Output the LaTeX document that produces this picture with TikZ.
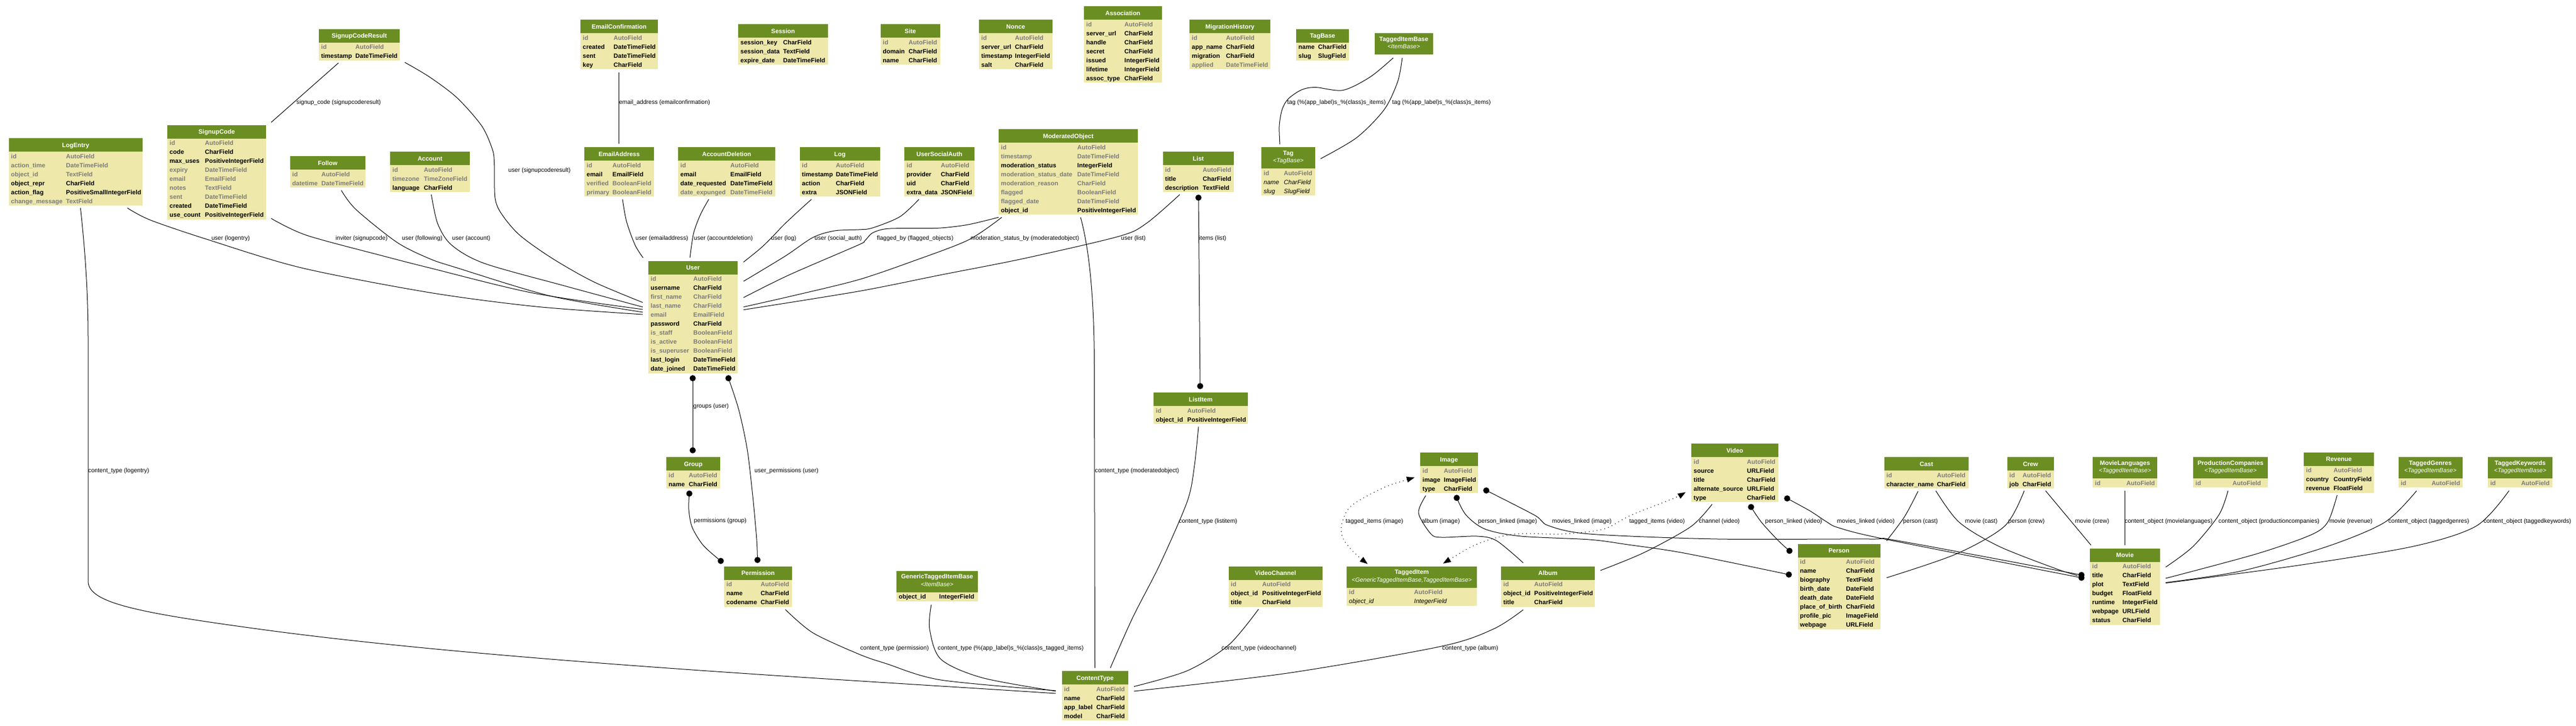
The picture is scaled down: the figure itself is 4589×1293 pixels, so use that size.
\documentclass[tikz,border=0pt]{standalone}
\usepackage{fontspec}
\setmainfont{Liberation Sans}
\usetikzlibrary{arrows.meta}
\definecolor{hdrgreen}{HTML}{6B8E23}
\definecolor{tblbg}{HTML}{EEE8AA}
\definecolor{fieldgrey}{HTML}{7B7B7B}
\newcommand\fldg{\color{fieldgrey}\bfseries}
\newcommand\fldb{\bfseries}
\newcommand\fldi{\itshape}
% #1 name, #2 x, #3 y, #4 width, #5 stereotype, #6 column-2 offset, #7 rows, #8 row list
\newcommand\mytable[8]{%
  \def\tblsub{#5}%
  \ifx\tblsub\empty\def\tblhh{24}\else\def\tblhh{38}\fi
  \pgfmathsetmacro\tblh{\tblhh+16*#7}%
  \node[tblbody, anchor=north west, minimum width=#4pt, minimum height=\tblh pt] (#1) at (#2,#3) {};
  \fill[hdr] (#2,#3) rectangle ++(#4,\tblhh);
  \ifx\tblsub\empty
    \node[ttl, anchor=base] (#1-t) at (#2+#4/2,#3+16) {#1};
  \else
    \node[ttl, anchor=base] (#1-t) at (#2+#4/2,#3+14) {#1};
    \node[stereo, anchor=base] (#1-s) at (#2+#4/2,#3+27.5) {#5};
  \fi
  \ifnum#7>0
    \foreach \sty/\fn/\ty [count=\i from 0] in {#8}{%
      \node[fldtext] (#1-f\i) at (#2+4,#3+\tblhh+16*\i+12) {\csname fld\sty\endcsname\fn};
      \node[fldtext] (#1-v\i) at (#2+#6,#3+\tblhh+16*\i+12) {\csname fld\sty\endcsname\ty};
    }%
  \fi
}
\tikzset{
  tblbody/.style={fill=tblbg, inner sep=0pt, outer sep=0pt, draw=none},
  hdr/.style={fill=hdrgreen},
  ttl/.style={text=white, font=\fontsize{11}{13}\selectfont\bfseries, inner sep=0pt},
  stereo/.style={text=white, font=\fontsize{10.7}{12}\selectfont\itshape, inner sep=0pt},
  fldtext/.style={font=\fontsize{11}{13}\selectfont, inner sep=0pt, anchor=base west},
  conn/.style={draw=black, line width=1pt},
  dotconn/.style={draw=black, line width=1.6pt, line cap=round, dash pattern=on 0pt off 7pt, >={Triangle[length=14pt,width=10pt]}, <->},
  lbl/.style={font=\fontsize{10.6}{12}\selectfont, inner sep=0pt, anchor=west, text height=7.6pt, text depth=2.2pt},
  mdot/.style={fill=black},
}
\begin{document}
\begin{tikzpicture}[x=1pt, y=-1pt]
\fill[white] (0,0) rectangle (4589,1293);
\useasboundingbox (0,0) rectangle (4589,1293);

% ---------------- tables ----------------
\mytable{SignupCodeResult}{568}{51.5}{144}{}{65}{2}{g/id/AutoField, b/timestamp/DateTimeField}
\mytable{SignupCode}{298}{222.5}{176}{}{67}{9}{g/id/AutoField, b/code/CharField, b/max\_uses/PositiveIntegerField, g/expiry/DateTimeField, g/email/EmailField, g/notes/TextField, g/sent/DateTimeField, b/created/DateTimeField, b/use\_count/PositiveIntegerField}
\mytable{LogEntry}{15.5}{246}{238.5}{}{102}{6}{g/id/AutoField, g/action\_time/DateTimeField, g/object\_id/TextField, b/object\_repr/CharField, b/action\_flag/PositiveSmallIntegerField, g/change\_message/TextField}
\mytable{Follow}{516.5}{278}{134.5}{}{56}{2}{g/id/AutoField, g/datetime/DateTimeField}
\mytable{Account}{695}{270}{142}{}{60}{3}{g/id/AutoField, g/timezone/TimeZoneField, b/language/CharField}
\mytable{EmailConfirmation}{1034}{35}{138}{}{59}{4}{g/id/AutoField, b/created/DateTimeField, b/sent/DateTimeField, b/key/CharField}
\mytable{Session}{1315}{43}{160}{}{80}{3}{b/session\_key/CharField, b/session\_data/TextField, b/expire\_date/DateTimeField}
\mytable{EmailAddress}{1041}{262}{124}{}{50}{4}{g/id/AutoField, b/email/EmailField, g/verified/BooleanField, g/primary/BooleanField}
\mytable{AccountDeletion}{1208}{262}{173}{}{93}{4}{g/id/AutoField, b/email/EmailField, b/date\_requested/DateTimeField, g/date\_expunged/DateTimeField}
\mytable{Log}{1424.5}{262}{143.5}{}{64.5}{4}{g/id/AutoField, b/timestamp/DateTimeField, b/action/CharField, b/extra/JSONField}
\mytable{User}{1155}{464.5}{159}{}{80}{11}{g/id/AutoField, b/username/CharField, g/first\_name/CharField, g/last\_name/CharField, g/email/EmailField, b/password/CharField, g/is\_staff/BooleanField, g/is\_active/BooleanField, g/is\_superuser/BooleanField, b/last\_login/DateTimeField, b/date\_joined/DateTimeField}
\mytable{Site}{1568.5}{43}{106.5}{}{50}{3}{g/id/AutoField, b/domain/CharField, b/name/CharField}
\mytable{Nonce}{1744}{35}{131}{}{64}{4}{g/id/AutoField, b/server\_url/CharField, b/timestamp/IntegerField, b/salt/CharField}
\mytable{Association}{1931}{11}{138.5}{}{72}{7}{g/id/AutoField, b/server\_url/CharField, b/handle/CharField, b/secret/CharField, b/issued/IntegerField, b/lifetime/IntegerField, b/assoc\_type/CharField}
\mytable{MigrationHistory}{2119}{35}{144}{}{65}{4}{g/id/AutoField, b/app\_name/CharField, b/migration/CharField, g/applied/DateTimeField}
\mytable{UserSocialAuth}{1611}{262}{125}{}{65}{4}{g/id/AutoField, b/provider/CharField, b/uid/CharField, b/extra\_data/JSONField}
\mytable{ModeratedObject}{1779}{230}{248}{}{140}{8}{g/id/AutoField, g/timestamp/DateTimeField, b/moderation\_status/IntegerField, g/moderation\_status\_date/DateTimeField, g/moderation\_reason/CharField, g/flagged/BooleanField, g/flagged\_date/DateTimeField, b/object\_id/PositiveIntegerField}
\mytable{List}{2071.5}{270}{126.5}{}{71}{3}{g/id/AutoField, b/title/CharField, b/description/TextField}
\mytable{Tag}{2247}{262}{96}{<TagBase>}{40}{3}{g/id/AutoField, i/name/CharField, i/slug/SlugField}
\mytable{TagBase}{2309}{51.5}{94}{}{39}{2}{b/name/CharField, b/slug/SlugField}
\mytable{TaggedItemBase}{2449}{59}{103.5}{<ItemBase>}{0}{0}{}
\mytable{ListItem}{2055}{699}{168}{}{60}{2}{g/id/AutoField, b/object\_id/PositiveIntegerField}
\mytable{GenericTaggedItemBase}{1597}{1016.5}{145}{<ItemBase>}{76}{1}{b/object\_id/IntegerField}
\mytable{VideoChannel}{2188.5}{1008.5}{167.5}{}{60}{3}{g/id/AutoField, b/object\_id/PositiveIntegerField, b/title/CharField}
\mytable{ContentType}{1891.5}{1195}{118.5}{}{61.5}{4}{g/id/AutoField, b/name/CharField, b/app\_label/CharField, b/model/CharField}
\mytable{Group}{1187}{814}{96}{}{40}{2}{g/id/AutoField, b/name/CharField}
\mytable{Permission}{1290}{1008.5}{121}{}{65}{3}{g/id/AutoField, b/name/CharField, b/codename/CharField}
\mytable{Image}{2530}{806}{102.5}{}{42}{3}{g/id/AutoField, b/image/ImageField, b/type/CharField}
\mytable{TaggedItem}{2399}{1008.5}{232}{<GenericTaggedItemBase,TaggedItemBase>}{120}{2}{g/id/AutoField, i/object\_id/IntegerField}
\mytable{Album}{2674}{1008.5}{167}{}{59}{3}{g/id/AutoField, b/object\_id/PositiveIntegerField, b/title/CharField}
\mytable{Video}{3013}{790}{155}{}{99}{5}{g/id/AutoField, b/source/URLField, b/title/CharField, b/alternate\_source/URLField, b/type/CharField}
\mytable{Person}{3202.5}{968.5}{147}{}{86}{8}{g/id/AutoField, b/name/CharField, b/biography/TextField, b/birth\_date/DateField, b/death\_date/DateField, b/place\_of\_birth/CharField, b/profile\_pic/ImageField, b/webpage/URLField}
\mytable{Cast}{3356.5}{814}{150.5}{}{94}{2}{g/id/AutoField, b/character\_name/CharField}
\mytable{Crew}{3575.5}{814}{83.5}{}{27.5}{2}{g/id/AutoField, b/job/CharField}
\mytable{MovieLanguages}{3728}{814}{115}{<TaggedItemBase>}{60}{1}{g/id/AutoField}
\mytable{ProductionCompanies}{3907}{814}{133}{<TaggedItemBase>}{70}{1}{g/id/AutoField}
\mytable{Movie}{3723}{976.5}{125}{}{58}{7}{g/id/AutoField, b/title/CharField, b/plot/TextField, b/budget/FloatField, b/runtime/IntegerField, b/webpage/URLField, b/status/CharField}
\mytable{Revenue}{4104}{805.5}{125}{}{53}{3}{g/id/AutoField, b/country/CountryField, b/revenue/FloatField}
\mytable{TaggedGenres}{4272.5}{814}{114}{<TaggedItemBase>}{59}{1}{g/id/AutoField}
\mytable{TaggedKeywords}{4432}{814}{115}{<TaggedItemBase>}{59}{1}{g/id/AutoField}

% ---------------- connectors ----------------
\draw[conn] ([shift={(35,60.5)}]SignupCodeResult.north west) -- ([shift={(185,-4.5)}]SignupCode.north west);
\draw[conn] plot[smooth] coordinates {([shift={(153,59.5)}]SignupCodeResult.north west) (765,137) (814,174) (858,224) (877,265.6) (880.6,290.5) (882,352.7) (894,381.7) (926,419) (984.5,460.6) (1057.7,502) ([shift={(-10,74.2)}]User.north west)};
\draw[conn] plot[smooth] coordinates {([shift={(211.5,124.5)}]LogEntry.north west) (268,392) (371,427) (537,477) (765,521) (955,546) ([shift={(-10,95.5)}]User.north west)};
\draw[conn] plot[smooth] coordinates {([shift={(185,166.5)}]SignupCode.north west) (546,419) (683,456) (765,477) (950,522) ([shift={(-10,86.5)}]User.north west)};
\draw[conn] plot[smooth] coordinates {([shift={(91.5,61)}]Follow.north west) (634,373) (707,431.5) (765,460.6) (814,477) (980,527) ([shift={(-10,91.5)}]User.north west)};
\draw[conn] plot[smooth] coordinates {([shift={(73.4,76.5)}]Account.north west) (779.6,398) (804,436) (862.6,469) (1009,510) ([shift={(-10,82.3)}]User.north west)};
\draw[conn] plot[smooth] coordinates {([shift={(68,93)}]EmailAddress.north west) (1116,394) (1131,435.7) ([shift={(-9.5,-5.5)}]User.north west)};
\draw[conn] plot[smooth] coordinates {([shift={(54.6,93)}]AccountDeletion.north west) (1248,381.7) (1235.7,415) ([shift={(74,-5.5)}]User.north west)};
\draw[conn] ([shift={(68.6,93.6)}]EmailConfirmation.north west) -- ([shift={(61.6,-5.6)}]EmailAddress.north west);
\draw[conn] plot[smooth] coordinates {([shift={(21,93)}]Log.north west) (1418,380) (1395,401.7) (1374.5,423.3) (1354,443) ([shift={(169.5,2.3)}]User.north west)};
\draw[conn] plot[smooth] coordinates {([shift={(26,93)}]UserSocialAuth.north west) (1603,386) (1554,406) (1530,409) (1487,411) (1448,423) (1399,456) ([shift={(169.5,36.5)}]User.north west)};
\draw[conn] plot[smooth] coordinates {([shift={(0,157)}]ModeratedObject.north west) (1725,400) (1676,406) (1627.6,406.6) (1579,407.5) (1554,415) (1540,429.5) (1527.5,437) (1405,490) ([shift={(169.5,65.5)}]User.north west)};
\draw[conn] plot[smooth] coordinates {([shift={(5.6,157)}]ModeratedObject.north west) (1725,427.4) (1627.6,464.7) (1530,498) (1420,525) ([shift={(169.5,82.2)}]User.north west)};
\draw[conn] plot[smooth] coordinates {([shift={(30.2,76.5)}]List.north west) (2042,398) (1993,421) (1823,460.6) (1676,489.6) (1530,518.7) ([shift={(169.5,87.2)}]User.north west)};
\draw[conn] ([shift={(63.5,82)}]List.north west) -- ([shift={(83,-11.4)}]ListItem.north west);
\fill[mdot] ([shift={(63.5,82)}]List.north west) circle (5.5pt);
\fill[mdot] ([shift={(83,-11.4)}]ListItem.north west) circle (5.5pt);
\draw[conn] ([shift={(79,209.1)}]User.north west) -- ([shift={(47,-12)}]Group.north west);
\fill[mdot] ([shift={(79,209.1)}]User.north west) circle (5.5pt);
\fill[mdot] ([shift={(47,-12)}]Group.north west) circle (5.5pt);
\draw[conn] plot[smooth] coordinates {([shift={(142.7,209.1)}]User.north west) (1316,729.6) (1331,799.5) (1340.6,880) (1348,960.7) ([shift={(59.4,-11.2)}]Permission.north west)};
\fill[mdot] ([shift={(142.7,209.1)}]User.north west) circle (5.5pt);
\fill[mdot] ([shift={(59.4,-11.2)}]Permission.north west) circle (5.5pt);
\draw[conn] plot[smooth] coordinates {([shift={(41,65)}]Group.north west) (1227,907) (1233,939) (1253,971.5) ([shift={(-6,-9.5)}]Permission.north west)};
\fill[mdot] ([shift={(41,65)}]Group.north west) circle (5.5pt);
\fill[mdot] ([shift={(-6,-9.5)}]Permission.north west) circle (5.5pt);
\draw[conn] plot[smooth] coordinates {([shift={(109,77)}]Permission.north west) (1448,1127) (1530,1165) (1579,1182) (1676,1211) ([shift={(-10.8,35)}]ContentType.north west)};
\draw[conn] ([shift={(127.9,124.5)}]LogEntry.north west) .. controls (151,440) and (157,520) .. (157,600) -- (157,1035) .. controls (157,1075) and (250,1092) .. (488,1124) .. controls (900,1178) and (1500,1210) .. ([shift={(-10.8,40)}]ContentType.north west);
\draw[conn] plot[smooth] coordinates {([shift={(62,60.3)}]GenericTaggedItemBase.north west) (1656,1120) (1676,1174) (1749.5,1207) ([shift={(-10.8,36)}]ContentType.north west)};
\draw[conn] ([shift={(146,157)}]ModeratedObject.north west) .. controls (1942,450) and (1949.5,540) .. (1949.5,660) -- ([shift={(59,-5.4)}]ContentType.north west);
\draw[conn] plot[smooth] coordinates {([shift={(80,61)}]ListItem.north west) (2127.6,831) (2115,893) (2066.6,1004.5) (2018,1099.5) ([shift={(86.5,-5.4)}]ContentType.north west)};
\draw[conn] plot[smooth] coordinates {([shift={(53.5,76.5)}]VideoChannel.north west) (2188.5,1149) (2115,1194.6) ([shift={(128.5,27.7)}]ContentType.north west)};
\draw[conn] plot[smooth] coordinates {([shift={(39.5,77.5)}]Album.north west) (2661,1120) (2568,1151) (2295,1198.7) ([shift={(128.5,36)}]ContentType.north west)};
\draw[conn] plot[smooth] coordinates {([shift={(33,-5)}]Tag.north west) (2279,224) (2284,195) (2295,176) (2319,159.8) (2344,155.6) (2392.6,160.6) (2441,137) ([shift={(33,44)}]TaggedItemBase.north west)};
\draw[conn] plot[smooth] coordinates {([shift={(105.6,20.6)}]Tag.north west) (2417,245) (2466,195) (2490,145) ([shift={(49,44)}]TaggedItemBase.north west)};
\draw[dotconn] plot[smooth] coordinates {([shift={(37.5,-4)}]TaggedItem.north west) (2412,984) (2392.6,959) (2390,934) (2407,901) (2466,868) ([shift={(-10,44.4)}]Image.north west)};
\draw[dotconn] plot[smooth] coordinates {([shift={(171.6,-4.8)}]TaggedItem.north west) (2636.5,967) (2700,951) (2783,951) (2856,942.5) (2905,917.7) (2978,889) ([shift={(-10,86.5)}]Video.north west)};
\draw[conn] plot[smooth] coordinates {([shift={(10,76.6)}]Image.north west) (2527,913.6) (2549,950.8) (2568,957) (2631.6,955) (2666,963) ([shift={(39.5,-6.1)}]Album.north west)};
\draw[conn] plot[smooth] coordinates {([shift={(65,80.7)}]Image.north west) (2612,917.7) (2646,942.5) (2709.6,955) (2831.6,961) (2900,970) (3000,985) ([shift={(-15.8,54.8)}]Person.north west)};
\fill[mdot] ([shift={(65,80.7)}]Image.north west) circle (5.5pt);
\fill[mdot] ([shift={(-15.8,54.8)}]Person.north west) circle (5.5pt);
\draw[conn] plot[smooth] coordinates {([shift={(117.7,67.5)}]Image.north west) (2734,917.7) (2758,936) (2831.6,951) (3060,960) (3331.6,960) (3382.6,963.3) ([shift={(-15,47.5)}]Movie.north west)};
\fill[mdot] ([shift={(117.7,67.5)}]Image.north west) circle (5.5pt);
\fill[mdot] ([shift={(-15,47.5)}]Movie.north west) circle (5.5pt);
\draw[conn] plot[smooth] coordinates {([shift={(37,108)}]Video.north west) (3012,938) (2929,984) ([shift={(177,7.5)}]Album.north west)};
\draw[conn] plot[smooth] coordinates {([shift={(106.4,113)}]Video.north west) (3137.8,930) (3168,963) ([shift={(-14.7,12.5)}]Person.north west)};
\fill[mdot] ([shift={(106.4,113)}]Video.north west) circle (5.5pt);
\fill[mdot] ([shift={(-14.7,12.5)}]Person.north west) circle (5.5pt);
\draw[conn] plot[smooth] coordinates {([shift={(170.7,97.7)}]Video.north west) (3224.5,910) (3255,930) (3275.5,940) (3357,960) ([shift={(-15,52.5)}]Movie.north west)};
\fill[mdot] ([shift={(170.7,97.7)}]Video.north west) circle (5.5pt);
\fill[mdot] ([shift={(-15,52.5)}]Movie.north west) circle (5.5pt);
\draw[conn] plot[smooth] coordinates {([shift={(60.3,61)}]Cast.north west) (3392.9,920) ([shift={(158.2,-5.2)}]Person.north west)};
\draw[conn] plot[smooth] coordinates {([shift={(92,60)}]Cast.north west) (3490,930) (3561,973) (3663,1013) ([shift={(-22,48.5)}]Movie.north west)};
\draw[conn] plot[smooth] coordinates {([shift={(30.5,60)}]Crew.north west) (3571.4,936.7) (3484.7,986.7) ([shift={(158.2,60.5)}]Person.north west)};
\draw[conn] ([shift={(68.5,60)}]Crew.north west) -- ([shift={(2,-5.5)}]Movie.north west);
\draw[conn] ([shift={(57,60)}]MovieLanguages.north west) -- ([shift={(62,-5.5)}]Movie.north west);
\draw[conn] plot[smooth] coordinates {([shift={(62,60)}]ProductionCompanies.north west) (3953,916.7) (3907,973) ([shift={(135,33.5)}]Movie.north west)};
\draw[conn] plot[smooth] coordinates {([shift={(59.4,76.5)}]Revenue.north west) (4146.6,930) (4116,953) (4019,986.7) ([shift={(135,53.5)}]Movie.north west)};
\draw[conn] plot[smooth] coordinates {([shift={(32.5,60)}]TaggedGenres.north west) (4248.5,930) (4146.6,973) (3993.8,1016.7) ([shift={(135,61)}]Movie.north west)};
\draw[conn] plot[smooth] coordinates {([shift={(37.6,60)}]TaggedKeywords.north west) (4411.5,936.7) (4299.4,973) (4095.6,1006.7) ([shift={(135,62)}]Movie.north west)};

% ---------------- labels ----------------
\node[lbl] (lb1) at (528,182.5) {signup\_code (signupcoderesult)};
\node[lbl] (lb2) at (905.5,303.7) {user (signupcoderesult)};
\node[lbl] (lb3) at (1102.6,182.5) {email\_address (emailconfirmation)};
\node[lbl] (lb4) at (2293,182.5) {tag (\%(app\_label)s\_\%(class)s\_items)};
\node[lbl] (lb5) at (2480,182.5) {tag (\%(app\_label)s\_\%(class)s\_items)};
\node[lbl] (lb6) at (376.6,424.5) {user (logentry)};
\node[lbl] (lb7) at (597.6,424.5) {inviter (signupcode)};
\node[lbl] (lb8) at (716,424.5) {user (following)};
\node[lbl] (lb9) at (805.5,424.5) {user (account)};
\node[lbl] (lb10) at (1132,424.5) {user (emailaddress)};
\node[lbl] (lb11) at (1236,424.5) {user (accountdeletion)};
\node[lbl] (lb12) at (1373.5,424.5) {user (log)};
\node[lbl] (lb13) at (1451,424.5) {user (social\_auth)};
\node[lbl] (lb14) at (1562,424.5) {flagged\_by (flagged\_objects)};
\node[lbl] (lb15) at (1729,424.5) {moderation\_status\_by (moderatedobject)};
\node[lbl] (lb16) at (1997,424.5) {user (list)};
\node[lbl] (lb17) at (2136,424.5) {items (list)};
\node[lbl] (lb18) at (1235,724) {groups (user)};
\node[lbl] (lb19) at (1344,839) {user\_permissions (user)};
\node[lbl] (lb20) at (157,839) {content\_type (logentry)};
\node[lbl] (lb21) at (1950.5,839) {content\_type (moderatedobject)};
\node[lbl] (lb22) at (1236,928) {permissions (group)};
\node[lbl] (lb23) at (2100,928.5) {content\_type (listitem)};
\node[lbl] (lb24) at (2397,928.5) {tagged\_items (image)};
\node[lbl] (lb25) at (2532.6,928.5) {album (image)};
\node[lbl] (lb26) at (2633,928.5) {person\_linked (image)};
\node[lbl] (lb27) at (2764.7,928.5) {movies\_linked (image)};
\node[lbl] (lb28) at (2902.3,928.5) {tagged\_items (video)};
\node[lbl] (lb29) at (3026.5,928.5) {channel (video)};
\node[lbl] (lb30) at (3144.4,928.5) {person\_linked (video)};
\node[lbl] (lb31) at (3272.4,928.5) {movies\_linked (video)};
\node[lbl] (lb32) at (3390,928.5) {person (cast)};
\node[lbl] (lb33) at (3500.5,928.5) {movie (cast)};
\node[lbl] (lb34) at (3577.5,928.5) {person (crew)};
\node[lbl] (lb35) at (3696.4,928.5) {movie (crew)};
\node[lbl] (lb36) at (3785,928.5) {content\_object (movielanguages)};
\node[lbl] (lb37) at (3952,928.5) {content\_object (productioncompanies)};
\node[lbl] (lb38) at (4149.6,928.5) {movie (revenue)};
\node[lbl] (lb39) at (4254.6,928.5) {content\_object (taggedgenres)};
\node[lbl] (lb40) at (4424,928.5) {content\_object (taggedkeywords)};
\node[lbl] (lb41) at (1532.4,1155) {content\_type (permission)};
\node[lbl] (lb42) at (1670.5,1155) {content\_type (\%(app\_label)s\_\%(class)s\_tagged\_items)};
\node[lbl] (lb43) at (2176,1155) {content\_type (videochannel)};
\node[lbl] (lb44) at (2569,1155) {content\_type (album)};
\end{tikzpicture}
\end{document}
